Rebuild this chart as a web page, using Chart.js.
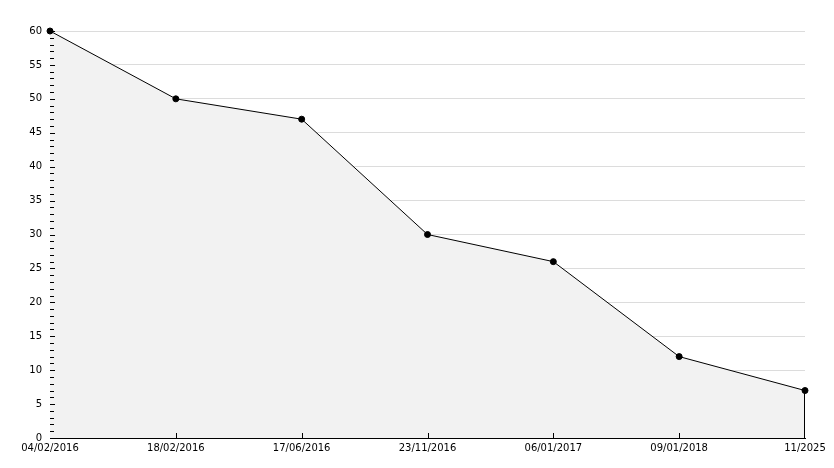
<!DOCTYPE html>
<html><head><meta charset="utf-8">
<script src="https://cdn.jsdelivr.net/npm/chart.js@4/dist/chart.umd.min.js"></script>
<style>html,body{margin:0;padding:0;background:#fff}#wrap{width:834px;height:468px}</style>
</head><body><div id="wrap"><canvas id="c" width="834" height="468"></canvas></div>
<script>
const categories = ["04/02/2016","18/02/2016","17/06/2016","23/11/2016","06/01/2017","09/01/2018","11/2025"];
const values = [60,50,47,30,26,12,7];
const yMin = 0, yMax = 60, yStep = 5, yMinorStep = 1;

const tickPlugin = {
  id: 'ticks',
  afterDatasetsDraw(chart) {
    const ctx = chart.ctx, x = chart.scales.x, y = chart.scales.y;
    const a = chart.chartArea;
    ctx.save();
    ctx.strokeStyle = '#000'; ctx.lineWidth = 1;
    ctx.beginPath();
    for (let v = yMin; v <= yMax; v += yMinorStep) {
      const py = Math.round(y.getPixelForValue(v)) + 0.5;
      const len = (v % yStep === 0) ? 5 : 4;
      ctx.moveTo(a.left, py); ctx.lineTo(a.left + len, py);
    }
    for (let i = 1; i < categories.length - 1; i++) {
      const px = Math.round(x.getPixelForValue(i)) + 0.5;
      ctx.moveTo(px, a.bottom); ctx.lineTo(px, a.bottom - 5);
    }
    const last = categories.length - 1;
    const lx = Math.round(x.getPixelForValue(last)) - 0.5;
    ctx.moveTo(lx, y.getPixelForValue(values[last])); ctx.lineTo(lx, a.bottom);
    ctx.stroke();
    ctx.restore();
  }
};

new Chart(document.getElementById('c'), {
  type: 'line',
  data: { labels: categories, datasets: [{
    data: values, borderColor: '#000', borderWidth: 1, backgroundColor: '#f2f2f2',
    fill: 'origin', tension: 0, clip: false,
    pointRadius: 3, pointBackgroundColor: '#000', pointBorderColor: '#000', pointBorderWidth: 1
  }]},
  options: {
    responsive: false, animation: false, devicePixelRatio: 1,
    layout: { padding: { left: 0, top: 31, right: 29, bottom: 0 } },
    plugins: { legend: { display: false }, tooltip: { enabled: false } },
    scales: {
      x: {
        offset: false,
        grid: { display: false, drawTicks: false },
        border: { display: true, color: '#000', width: 1 },
        ticks: { autoSkip: false, maxRotation: 0, color: '#000', padding: 4, font: { family: 'DejaVu Sans', size: 10 } },
        afterFit(s) { s.height = 30; }
      },
      y: {
        min: yMin, max: yMax,
        grid: { color: '#dcdcdc', drawTicks: false },
        border: { display: true, color: '#000', width: 1 },
        ticks: { stepSize: yStep, color: '#000', padding: 8, font: { family: 'DejaVu Sans', size: 10 } },
        afterFit(s) { s.width = 50; }
      }
    }
  },
  plugins: [tickPlugin]
});
</script></body></html>
